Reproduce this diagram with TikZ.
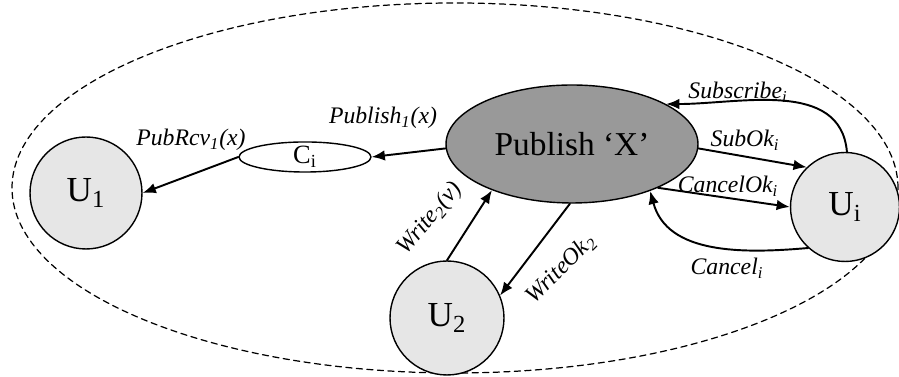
\documentclass[tikz,border=0pt]{standalone}
\usepackage{fontspec}
\setmainfont{Liberation Serif}
\usetikzlibrary{arrows.meta,shapes.geometric}
\definecolor{pubgray}{RGB}{153,153,153}
\definecolor{usergray}{RGB}{230,230,230}

\begin{document}
\begin{tikzpicture}[x=0.02cm,y=0.02cm,>={Latex[length=7.5pt,width=6pt]},
                     line cap=round,line join=round,
                     user/.style={circle,draw,line width=.8pt,fill=usergray,
                       inner sep=0pt,minimum size=2.24cm,
                       font=\fontsize{20}{22}\selectfont},
                     msg/.style={font=\fontsize{13.5}{16}\selectfont\itshape,
                       inner sep=1pt},
                     flow/.style={->,line width=1.1pt}]
  \useasboundingbox (0,0) rectangle (899,377);
  % Outer boundary of the system.
  \draw[line width=.7pt,dash pattern=on 3.5pt off 2.5pt]
       (455,189) ellipse (443 and 185);
  % Publisher, channel and users.
  \node[ellipse,draw,line width=.8pt,fill=pubgray,inner sep=0pt,
        minimum width=5.04cm,minimum height=2.36cm,
        font=\fontsize{19}{22}\selectfont] (pub) at (572,233)
       {Publish ‘X’};
  \node[ellipse,draw,line width=.8pt,fill=white,inner sep=0pt,
        minimum width=2.64cm,minimum height=.6cm,
        font=\fontsize{15}{16}\selectfont] (ci) at (305,220)
       {C\textsubscript{i}};
  \node[user] (u1) at (86,184) {U\textsubscript{1}};
  \node[user,minimum size=2.28cm] (u2) at (447,59) {U\textsubscript{2}};
  \node[user,minimum size=2.18cm] (ui) at (845,170) {U\textsubscript{i}};
  % Messages.
  \draw[flow] (pub.182) -- (ci.east);
  \draw[flow] (ci.west) -- (u1.east);
  \draw[flow] (u2.north) -- (pub.210);
  \draw[flow] (pub.268) -- (u2.23);
  \draw[flow] (ui.88) to[out=95,in=0] (pub.23);
  \draw[flow] (pub.-2) -- (ui.134);
  \draw[flow] (pub.-27) -- (ui.west);
  \draw[flow] (ui.228) to[out=185,in=-75] (pub.-31);
  \node[msg] (lpub) at (383,259) {Publish\textsubscript{1}(x)};
  \node[msg] (lrcv) at (191,237) {PubRcv\textsubscript{1}(x)};
  \node[msg,rotate=50] (lwr) at (430,158) {Write\textsubscript{2}(v)};
  \node[msg,rotate=45] (lwok) at (561,108) {WriteOk\textsubscript{2}};
  \node[msg] (lsub) at (738,285) {Subscribe\textsubscript{i}};
  \node[msg] (lsok) at (745,237) {SubOk\textsubscript{i}};
  \node[msg] (lcok) at (728,191) {CancelOk\textsubscript{i}};
  \node[msg] (lcan) at (727,109) {Cancel\textsubscript{i}};
\end{tikzpicture}
\end{document}
